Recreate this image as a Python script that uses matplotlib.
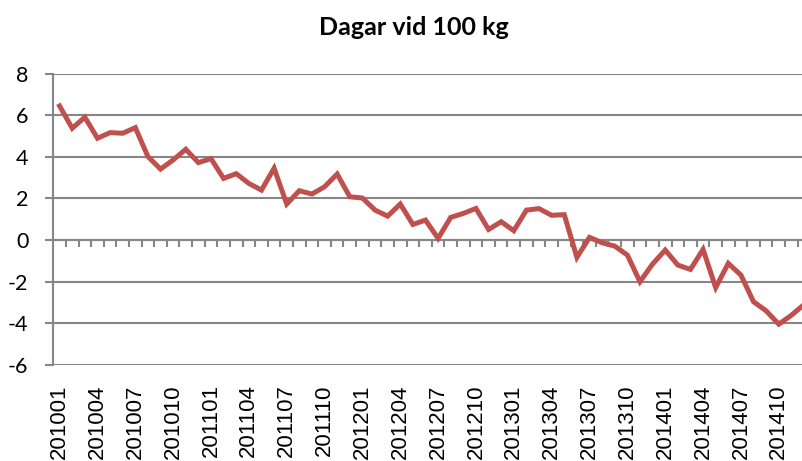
import matplotlib
matplotlib.use("Agg")
import matplotlib.pyplot as plt
import numpy as np

# monthly values, 201001 .. 201412
months = [f"{y}{m:02d}" for y in range(2010, 2015) for m in range(1, 13)]
values = [
    6.44, 5.37, 5.90, 4.89, 5.16, 5.13, 5.40, 4.01, 3.41, 3.85, 4.36, 3.72,
    3.91, 2.96, 3.19, 2.72, 2.40, 3.45, 1.73, 2.37, 2.21, 2.56, 3.17, 2.08,
    2.02, 1.44, 1.15, 1.73, 0.75, 0.96, 0.08, 1.09, 1.28, 1.52, 0.51, 0.88,
    0.45, 1.44, 1.51, 1.19, 1.22, -0.83, 0.13, -0.13, -0.29, -0.72, -2.00, -1.15,
    -0.48, -1.20, -1.41, -0.45, -2.28, -1.12, -1.68, -2.96, -3.40, -4.04, -3.61, -3.10,
]
title = "Dagar vid 100 kg"
y_ticks = [-6, -4, -2, 0, 2, 4, 6, 8]

grey = "#868686"

fig = plt.figure(figsize=(8.03, 4.61), dpi=100)
# plot area runs past the right edge, like the cropped original
ax = fig.add_axes([53.3 / 803, 96 / 461, 757 / 803, 291.5 / 461])

x = np.arange(len(values))
ax.plot(x, values, color="#C0504D", linewidth=3.6, solid_joinstyle="miter", zorder=3)

ax.set_xlim(-0.5, len(values) - 0.5)
ax.set_ylim(-6, 8)
ax.set_yticks(y_ticks)
ax.set_yticklabels([str(v) for v in y_ticks], fontfamily="Lato", fontsize=15.5)
ax.grid(axis="y", color=grey, linewidth=1.5)
ax.set_axisbelow(True)

ax.set_xticks(x[::3])
ax.set_xticklabels(months[::3], rotation=90, fontfamily="Liberation Sans", fontsize=16, va="top")
ax.tick_params(axis="x", length=0, pad=14)
ax.tick_params(axis="y", length=6, width=1.5, color=grey, pad=12)

for side in ["top", "right", "bottom"]:
    ax.spines[side].set_visible(False)
ax.spines["left"].set_color(grey)
ax.spines["left"].set_linewidth(1.5)

# category axis crossing at zero, with tick marks between categories
zero = ax.secondary_xaxis(6 / 14)
zero.set_xticks(np.arange(len(values)) + 0.5)
zero.tick_params(axis="x", direction="out", length=5, width=1.5, color=grey, labelbottom=False)
zero.xaxis.set_ticks_position("bottom")
zero.set_xticklabels([])
zero.spines["bottom"].set_color(grey)
zero.spines["bottom"].set_linewidth(1.5)

fig.text(414 / 803, 1 - 35 / 461, title, ha="center", va="baseline",
         fontfamily="Lato", fontweight="bold", fontsize=18)

fig.savefig("out.png", dpi=100)
